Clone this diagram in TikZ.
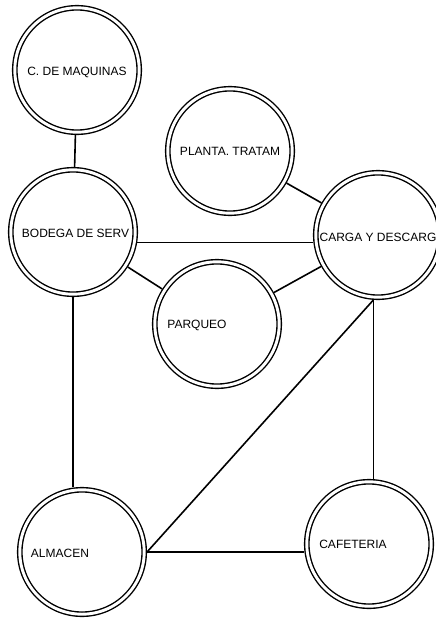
\documentclass[tikz,border=0pt]{standalone}
\usepackage{fontspec}
\setmainfont{Liberation Sans}

\begin{document}
\begin{tikzpicture}[x=1pt,y=-1pt,room/.style={circle,draw,line width=1.4pt,double,double distance=2.9pt,minimum size=124.4pt,inner sep=0pt,outer sep=2.85pt},tag/.style={font=\fontsize{12}{14}\selectfont,inner sep=0pt},link/.style={line width=1.6pt},weak/.style={line width=0.8pt}]
\useasboundingbox (0,0) rectangle (436,618);
\node[room] (maq) at (77,70) {};
\node[room] (planta) at (230,151) {};
\node[room] (bodega) at (73,232) {};
\node[room] (carga) at (378,235) {};
\node[room] (parqueo) at (217,324) {};
\node[room] (almacen) at (82,552) {};
\node[room] (cafe) at (369,544) {};
\draw[link] (maq) -- (bodega);
\draw[link] (planta) -- (carga);
\draw[weak] (bodega.-9) -- (bodega.-9 -| carga.west);
\draw[link] (bodega) -- (parqueo);
\draw[link] (parqueo) -- (carga);
\draw[link] (bodega.south) -- (bodega.south |- almacen.north);
\draw[link] (carga.-94) -- (carga.-94 |- cafe.north);
\draw[link] (carga.-94) -- (almacen.east);
\draw[link] (almacen.east) -- (almacen.east -| cafe.west);
\node[tag,yshift=-2pt] (maqtxt) at (maq) {C. DE MAQUINAS};
\node[tag] (plantatxt) at (planta) {PLANTA. TRATAM};
\node[tag,xshift=2.5pt,yshift=-1pt] (bodegatxt) at (bodega) {BODEGA DE SERV};
\node[tag,yshift=-2pt] (cargatxt) at (carga) {CARGA Y DESCARG};
\node[tag,xshift=-20pt,yshift=-1pt] (parqueotxt) at (parqueo) {PARQUEO};
\node[tag,xshift=-22pt,yshift=-1pt] (almacentxt) at (almacen) {ALMACEN};
\node[tag,xshift=-16pt] (cafetxt) at (cafe) {CAFETERIA};
\end{tikzpicture}
\end{document}
